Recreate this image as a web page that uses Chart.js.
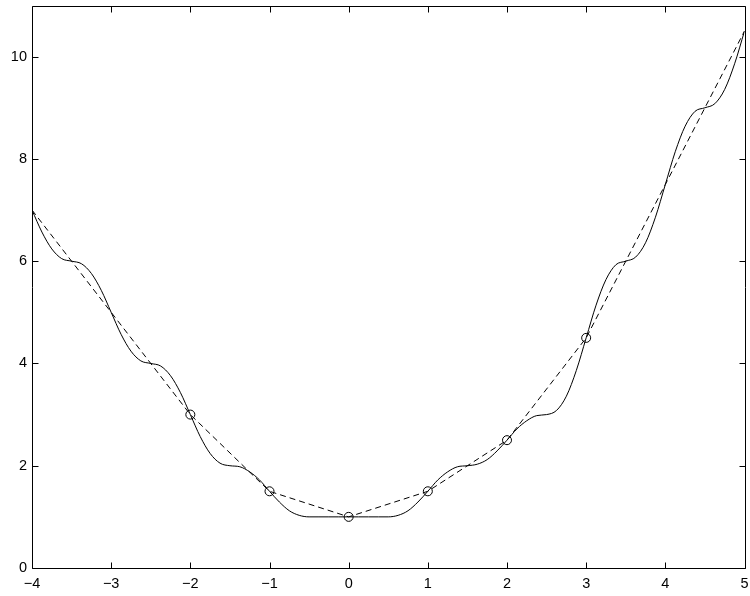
<!DOCTYPE html>
<html>
<head>
<meta charset="utf-8">
<script src="https://cdn.jsdelivr.net/npm/chart.js@4/dist/chart.umd.min.js"></script>
<style>
html,body{margin:0;padding:0;background:#fff;}
canvas{display:block;}
</style>
</head>
<body>
<canvas id="c" width="750" height="596"></canvas>
<script>
// Solid curve
const curveX = [-4,-3.875,-3.75,-3.625,-3.5,-3.375,-3.25,-3.125,-3,-2.875,-2.75,-2.625,-2.5,-2.375,-2.25,-2.125,-2,-1.875,-1.75,-1.625,-1.5,-1.375,-1.25,-1.125,-1,-0.875,-0.75,-0.625,-0.5,-0.375,-0.25,-0.125,0,0.125,0.25,0.375,0.5,0.625,0.75,0.875,1,1.125,1.25,1.375,1.5,1.625,1.75,1.875,2,2.125,2.25,2.375,2.5,2.625,2.75,2.875,3,3.125,3.25,3.375,3.5,3.625,3.75,3.875,4,4.125,4.25,4.375,4.5,4.625,4.75,4.875,5];
const curveY = [7,6.57,6.24,6.05,6,5.95,5.76,5.43,5,4.57,4.24,4.05,4,3.95,3.76,3.43,3,2.57,2.24,2.05,2,1.98,1.88,1.72,1.5,1.29,1.12,1.03,1,1,1,1,1,1,1,1,1,1.03,1.12,1.29,1.5,1.72,1.88,1.98,2,2.03,2.12,2.29,2.5,2.72,2.88,2.98,3,3.08,3.36,3.86,4.5,5.14,5.64,5.93,6,6.08,6.36,6.86,7.5,8.14,8.64,8.93,9,9.08,9.36,9.86,10.5];
// Dashed polyline
const lineX = [-4,-3,-2,-1,0,1,2,3,4,5];
const lineY = [7,5,3,1.5,1,1.5,2.5,4.5,7.5,10.5];
// Circle markers
const markX = [-2,-1,0,1,2,3];
const markY = [3,1.5,1,1.5,2.5,4.5];
// Ticks
const xTicks = [-4,-3,-2,-1,0,1,2,3,4,5];
const yTicks = [0,2,4,6,8,10];

const zip = (xs, ys) => xs.map((v, i) => ({x: v, y: ys[i]}));
const fmt = v => String(v).replace('-', '\u2212');
const noPad = s => { s.paddingTop = 0; s.paddingBottom = 0; s.paddingLeft = 0; s.paddingRight = 0; };

const frame = {
  id: 'frame',
  afterDraw(chart) {
    const {ctx, chartArea: a, scales: {x, y}} = chart;
    const L = Math.round(a.left) + 0.5, R = Math.round(a.right) + 0.5;
    const T = Math.round(a.top) + 0.5, B = Math.round(a.bottom) + 0.5;
    const tl = 6;
    ctx.save();
    ctx.strokeStyle = '#000';
    ctx.lineWidth = 1;
    ctx.beginPath();
    ctx.rect(L, T, R - L, B - T);
    x.ticks.forEach(t => {
      const p = Math.round(x.getPixelForValue(t.value)) + 0.5;
      ctx.moveTo(p, B); ctx.lineTo(p, B - tl);
      ctx.moveTo(p, T); ctx.lineTo(p, T + tl);
    });
    y.ticks.forEach(t => {
      const p = Math.round(y.getPixelForValue(t.value)) + 0.5;
      ctx.moveTo(L, p); ctx.lineTo(L + tl, p);
      ctx.moveTo(R, p); ctx.lineTo(R - tl, p);
    });
    ctx.stroke();
    ctx.restore();
  }
};

new Chart(document.getElementById('c'), {
  type: 'scatter',
  data: {
    datasets: [
      {
        data: zip(markX, markY),
        showLine: false,
        pointStyle: 'circle',
        pointRadius: 4.5,
        pointBorderWidth: 1,
        pointBorderColor: '#000',
        pointBackgroundColor: 'rgba(0,0,0,0)',
        order: 0
      },
      {
        data: zip(lineX, lineY),
        showLine: true,
        borderColor: '#000',
        borderWidth: 1,
        borderDash: [6, 4],
        pointRadius: 0,
        tension: 0,
        order: 1
      },
      {
        data: zip(curveX, curveY),
        showLine: true,
        borderColor: '#000',
        borderWidth: 1,
        pointRadius: 0,
        cubicInterpolationMode: 'monotone',
        order: 2
      }
    ]
  },
  options: {
    responsive: false,
    animation: false,
    devicePixelRatio: 1,
    layout: {padding: {top: 4, right: 4, left: 0, bottom: 0}},
    plugins: {legend: {display: false}, tooltip: {enabled: false}},
    scales: {
      x: {
        type: 'linear',
        min: -4, max: 5,
        afterBuildTicks: s => { s.ticks = xTicks.map(v => ({value: v})); },
        afterFit: s => { s.height = 28; noPad(s); },
        grid: {display: false, drawTicks: false},
        border: {display: false},
        ticks: {
          autoSkip: false, maxRotation: 0, padding: 7,
          color: '#000',
          font: {family: '"Liberation Sans", Arial, Helvetica, sans-serif', size: 14.5},
          callback: v => fmt(v)
        }
      },
      y: {
        type: 'linear',
        min: 0, max: 11,
        afterBuildTicks: s => { s.ticks = yTicks.map(v => ({value: v})); },
        afterFit: s => { s.width = 32; noPad(s); },
        grid: {display: false, drawTicks: false},
        border: {display: false},
        ticks: {
          autoSkip: false, padding: 5,
          color: '#000',
          font: {family: '"Liberation Sans", Arial, Helvetica, sans-serif', size: 14.5},
          callback: v => fmt(v)
        }
      }
    }
  },
  plugins: [frame]
});
</script>
</body>
</html>
